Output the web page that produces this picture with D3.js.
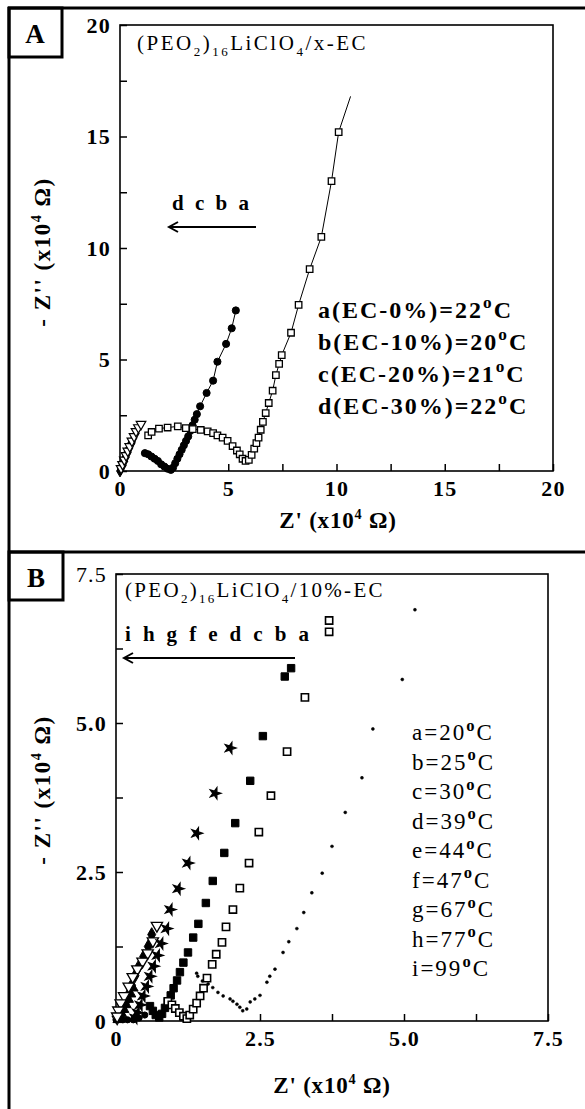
<!DOCTYPE html>
<html>
<head>
<meta charset="utf-8">
<script src="https://cdn.jsdelivr.net/npm/d3@7"></script>
<style>
  body { margin: 0; background: #fff; }
  svg { display: block; }
  text { font-family: "Liberation Serif", "Times New Roman", serif; fill: #000; }
</style>
</head>
<body>
<script>
var W = 585, H = 1109;

// ---- panel A data: Z' , -Z'' (x10^4 ohm)
var aEC0 = [[1.3,1.6],[1.46,1.75],[1.8,1.9],[2.2,1.95],[2.67,2.0],[3.04,1.92],[3.36,1.88],[3.73,1.84],
  [4.05,1.78],[4.3,1.7],[4.5,1.6],[4.74,1.5],[4.97,1.35],[5.2,1.12],[5.4,0.92],[5.53,0.75],[5.66,0.55],
  [5.8,0.45],[5.95,0.5],[6.08,0.72],[6.2,1.0],[6.3,1.25],[6.4,1.5],[6.5,1.85],[6.6,2.2],[6.73,2.6],
  [6.87,3.05],[7.05,3.6],[7.2,4.3],[7.35,4.8],[7.47,5.2],[7.9,6.2],[8.25,7.45],[8.76,9.05],[9.3,10.5],
  [9.77,13.0],[10.1,15.2]];
var aEC0Tail = [10.65, 16.8];
var aEC10 = [[1.15,0.8],[1.3,0.75],[1.45,0.65],[1.6,0.55],[1.75,0.45],[1.9,0.3],[2.05,0.2],[2.2,0.1],
  [2.35,0.05],[2.45,0.15],[2.55,0.35],[2.65,0.55],[2.75,0.75],[2.85,0.95],[2.95,1.15],[3.05,1.35],
  [3.15,1.55],[3.25,1.8],[3.35,2.05],[3.45,2.3],[3.55,2.55],[3.7,2.9],[4.0,3.5],[4.3,4.05],[4.5,4.9],
  [4.9,5.7],[5.16,6.4],[5.35,7.2]];
var aEC20 = [[0.05,0.12],[0.12,0.3],[0.2,0.5],[0.28,0.7],[0.36,0.9],[0.45,1.1],[0.55,1.35],[0.65,1.55],
  [0.74,1.78],[0.85,1.95],[0.97,2.1]];
var aEC30 = [[0,0],[0.04,0.1],[0.08,0.2],[0.12,0.3],[0.16,0.4],[0.2,0.5],[0.25,0.62],[0.3,0.75],
  [0.35,0.88],[0.4,1.0],[0.45,1.12],[0.5,1.22],[0.55,1.3]];
var legendA = ["a(EC-0%)=22", "b(EC-10%)=20", "c(EC-20%)=21", "d(EC-30%)=22"];
var ticksA = [0, 5, 10, 15, 20];

// ---- panel B data
var b20 = [[1.4,0.8],[1.42,0.75],[1.5,0.67],[1.6,0.62],[1.68,0.56],[1.77,0.48],[1.86,0.42],[1.98,0.37],
  [2.03,0.33],[2.1,0.28],[2.15,0.23],[2.2,0.17],[2.27,0.2],[2.33,0.32],[2.41,0.37],[2.5,0.43],[2.62,0.65],
  [2.67,0.75],[2.76,0.87],[2.9,1.15],[3.0,1.33],[3.14,1.55],[3.26,1.82],[3.4,2.15],[3.58,2.48],[3.75,2.93],
  [3.98,3.5],[4.27,4.08],[4.46,4.9],[4.97,5.73],[5.19,6.9]];
var b25 = [[0.9,0.33],[0.97,0.27],[1.03,0.21],[1.1,0.14],[1.17,0.08],[1.23,0.04],[1.28,0.1],[1.34,0.2],
  [1.4,0.3],[1.46,0.42],[1.52,0.55],[1.58,0.72],[1.67,0.95],[1.74,1.12],[1.84,1.32],[1.91,1.58],[2.03,1.87],
  [2.15,2.23],[2.31,2.65],[2.48,3.17],[2.69,3.78],[2.97,4.52],[3.28,5.43],[3.7,6.53],[3.7,6.72]];
var b30 = [[0.59,0.25],[0.64,0.17],[0.69,0.1],[0.75,0.06],[0.8,0.12],[0.85,0.22],[0.9,0.33],[0.95,0.43],
  [1.0,0.55],[1.06,0.68],[1.11,0.82],[1.17,0.98],[1.25,1.15],[1.34,1.4],[1.43,1.63],[1.56,1.98],[1.68,2.35],
  [1.88,2.82],[2.07,3.32],[2.33,4.03],[2.55,4.78],[2.93,5.78],[3.04,5.92]];
var b39 = [[1.98,4.58],[1.72,3.82],[1.4,3.15],[1.25,2.65],[1.08,2.22],[0.94,1.87],[0.88,1.55],[0.78,1.3],
  [0.72,1.1],[0.65,0.92],[0.59,0.75],[0.53,0.58],[0.47,0.42],[0.42,0.27],[0.37,0.14],[0.33,0.05]];
var b44 = [[0.71,1.6],[0.64,1.34],[0.55,1.14],[0.46,1.0],[0.37,0.87],[0.29,0.74],[0.22,0.58],[0.14,0.42],
  [0.08,0.3],[0.04,0.18],[0.02,0.08]];
var b47 = [[0.62,1.45],[0.56,1.25],[0.48,1.08],[0.4,0.92],[0.33,0.76],[0.27,0.6],[0.22,0.45],[0.17,0.32],
  [0.12,0.2],[0.08,0.1]];
var b67 = [[0.3,0.55],[0.26,0.45],[0.22,0.36],[0.18,0.27],[0.14,0.19],[0.1,0.12],[0.06,0.06],[0.03,0.02]];
var b77 = [[0.2,0.4],[0.16,0.3],[0.12,0.22],[0.08,0.14],[0.05,0.08],[0.02,0.03]];
var b99 = [[0.5,0.1],[0.4,0.05],[0.3,0.02],[0.2,0.02],[0.12,0.02],[0.05,0.03],[0.0,0.02]];
var legendB = ["a=20", "b=25", "c=30", "d=39", "e=44", "f=47", "g=67", "h=77", "i=99"];
var ticksB = [0, 2.5, 5, 7.5];

var svg = d3.select("body").append("svg")
  .attr("width", W)
  .attr("height", H);

// scales
var xA = d3.scaleLinear().domain([0, 20]).range([120, 553]);
var yA = d3.scaleLinear().domain([0, 20]).range([471, 25]);
var xB = d3.scaleLinear().domain([0, 7.5]).range([116, 548]);
var yB = d3.scaleLinear().domain([0, 7.5]).range([1021, 574]);

// outer frame lines and panel boxes
svg.append("line").attr("x1", 9).attr("y1", 7).attr("x2", 9).attr("y2", H)
  .attr("stroke", "#000").attr("stroke-width", 3);
svg.append("line").attr("x1", 8).attr("y1", 8).attr("x2", W).attr("y2", 8)
  .attr("stroke", "#000").attr("stroke-width", 3);
svg.append("line").attr("x1", 8).attr("y1", 552).attr("x2", W).attr("y2", 552)
  .attr("stroke", "#000").attr("stroke-width", 3);
svg.append("rect").attr("x", 9).attr("y", 8).attr("width", 53).attr("height", 49)
  .attr("fill", "none").attr("stroke", "#000").attr("stroke-width", 3);
svg.append("rect").attr("x", 9).attr("y", 552).attr("width", 54).attr("height", 48)
  .attr("fill", "none").attr("stroke", "#000").attr("stroke-width", 3);
svg.append("text").attr("x", 35).attr("y", 43).attr("text-anchor", "middle")
  .attr("font-size", 27).attr("font-weight", "bold").text("A");
svg.append("text").attr("x", 36).attr("y", 587).attr("text-anchor", "middle")
  .attr("font-size", 27).attr("font-weight", "bold").text("B");

// text with sub / superscripts
function rich(sel, parts, size) {
  parts.forEach(function(p) {
    var t = sel.append("tspan").text(p[0]);
    if (p[1] == "sub") t.attr("font-size", size * 0.62).attr("dy", size * 0.3);
    if (p[1] == "sup") t.attr("font-size", size * 0.62).attr("dy", -size * 0.38);
    if (p[1] == "deg") t.attr("font-size", size * 0.72).attr("font-weight", "bold").attr("dy", -size * 0.4);
    if (p[1] == "up") t.attr("dy", size * 0.38);
    if (p[1] == "up2") t.attr("dy", size * 0.4);
    if (p[1] == "dn") t.attr("dy", -size * 0.3);
  });
}

function drawFrame(x, y, step, labelFmt, fs) {
  var g = svg.append("g");
  var xs = x.domain(), ys = y.domain();
  g.append("rect")
    .attr("x", x(xs[0])).attr("y", y(ys[1]))
    .attr("width", x(xs[1]) - x(xs[0])).attr("height", y(ys[0]) - y(ys[1]))
    .attr("fill", "none").attr("stroke", "#000").attr("stroke-width", 1.6);
  var minor = d3.range(xs[0], xs[1] + 0.001, step);
  var xAxis = d3.axisBottom(x).tickValues(minor).tickSize(-7).tickSizeOuter(0).tickPadding(9)
    .tickFormat(labelFmt);
  var yAxis = d3.axisLeft(y).tickValues(minor).tickSize(-7).tickSizeOuter(0).tickPadding(9)
    .tickFormat(labelFmt);
  var gx = g.append("g").attr("transform", "translate(0," + y(ys[0]) + ")").call(xAxis);
  var gy = g.append("g").attr("transform", "translate(" + x(xs[0]) + ",0)").call(yAxis);
  [gx, gy].forEach(function(a) {
    a.select(".domain").remove();
    a.selectAll(".tick line").attr("stroke", "#000").attr("stroke-width", 1.5);
    a.selectAll(".tick text").attr("font-family", "Liberation Serif").attr("font-size", fs)
      .attr("font-weight", "bold").attr("letter-spacing", 1.2).attr("fill", "#000");
  });
  return { gx: gx, gy: gy };
}

function markers(data, x, y, type, size, filled, sw) {
  svg.append("g").selectAll("path").data(data).join("path")
    .attr("transform", function(d) { return "translate(" + x(d[0]) + "," + y(d[1]) + ")" + (type.rot || ""); })
    .attr("d", d3.symbol().type(type.sym).size(size))
    .attr("fill", filled ? "#000" : "#fff")
    .attr("stroke", "#000")
    .attr("stroke-width", sw);
}

var square = { sym: d3.symbolSquare };
var circle = { sym: d3.symbolCircle };
var diamond = { sym: d3.symbolDiamond };
var star = { sym: d3.symbolStar, rot: " rotate(18)" };
var triDown = { sym: d3.symbolTriangle, rot: " rotate(180)" };
var triUp = { sym: d3.symbolTriangle };

// ================= panel A =================
drawFrame(xA, yA, 2.5, function(d) { return ticksA.indexOf(d) >= 0 ? d : ""; }, 22);

var lineA = d3.line().x(function(d) { return xA(d[0]); }).y(function(d) { return yA(d[1]); });
svg.append("path").attr("d", lineA(aEC0.concat([aEC0Tail])))
  .attr("fill", "none").attr("stroke", "#000").attr("stroke-width", 1);
svg.append("path").attr("d", lineA(aEC10))
  .attr("fill", "none").attr("stroke", "#000").attr("stroke-width", 1);
markers(aEC30, xA, yA, diamond, 40, true, 1);
markers(aEC20, xA, yA, triDown, 40, false, 1.2);
markers(aEC10, xA, yA, circle, 40, true, 1);
markers(aEC0, xA, yA, square, 42, false, 1.3);

var tA = svg.append("text").attr("x", 137).attr("y", 50).attr("font-size", 21).attr("letter-spacing", 2.5);
rich(tA, [["(PEO"], ["2", "sub"], [")", "dn"], ["16", "sub"], ["LiClO", "dn"], ["4", "sub"], ["/x-EC", "dn"]], 21);

svg.append("text").attr("x", 172).attr("y", 210).attr("font-size", 21).attr("font-weight", "bold")
  .attr("letter-spacing", 3).text("d c b a");
function arrow(x1, x2, yy) {
  svg.append("line").attr("x1", x1).attr("x2", x2).attr("y1", yy).attr("y2", yy)
    .attr("stroke", "#000").attr("stroke-width", 2);
  svg.append("path").attr("d", "M" + (x1 + 9) + "," + (yy - 5) + "L" + x1 + "," + yy + "L" + (x1 + 9) + "," + (yy + 5))
    .attr("fill", "none").attr("stroke", "#000").attr("stroke-width", 2);
}
arrow(169, 256, 227);

legendA.forEach(function(s, i) {
  var t = svg.append("text").attr("x", 318).attr("y", 318 + i * 32)
    .attr("font-size", 24).attr("font-weight", "bold").attr("letter-spacing", 2);
  rich(t, [[s], ["o", "deg"], ["C", "up2"]], 24);
});

var yLabA = svg.append("text").attr("transform", "translate(50,252) rotate(-90)")
  .attr("text-anchor", "middle").attr("font-size", 23).attr("font-weight", "bold").attr("letter-spacing", 1.5);
rich(yLabA, [["- Z'' (x10"], ["4", "sup"], [" \u03A9)", "up"]], 23);
var xLabA = svg.append("text").attr("x", 338).attr("y", 528)
  .attr("text-anchor", "middle").attr("font-size", 23).attr("font-weight", "bold").attr("letter-spacing", 0.8);
rich(xLabA, [["Z' (x10"], ["4", "sup"], [" \u03A9)", "up"]], 23);

// ================= panel B =================
var fmtB = function(d) { return ticksB.indexOf(d) >= 0 ? (d == 0 ? "0" : d3.format(".1f")(d)) : ""; };
var axB = drawFrame(xB, yB, 1.25, fmtB, 22);
axB.gy.selectAll(".tick text").filter(function(d) { return d == 7.5; }).attr("font-weight", "normal");

markers(b99, xB, yB, circle, 30, true, 1);
markers(b77, xB, yB, triDown, 40, false, 1.2);
markers(b67, xB, yB, triUp, 40, true, 1);
markers(b47, xB, yB, diamond, 55, true, 1);
markers(b44, xB, yB, triDown, 55, false, 1.3);
markers(b39, xB, yB, star, 40, true, 1.2);
markers(b30, xB, yB, square, 55, true, 1);
markers(b25, xB, yB, square, 52, false, 1.6);
markers(b20, xB, yB, circle, 7, true, 0.5);

var tB = svg.append("text").attr("x", 125).attr("y", 597).attr("font-size", 21).attr("letter-spacing", 2.3);
rich(tB, [["(PEO"], ["2", "sub"], [")", "dn"], ["16", "sub"], ["LiClO", "dn"], ["4", "sub"], ["/10%-EC", "dn"]], 21);
svg.append("text").attr("x", 125).attr("y", 641).attr("font-size", 21).attr("font-weight", "bold")
  .attr("letter-spacing", 3.4).text("i h g f e d c b a");
arrow(124, 295, 658);

legendB.forEach(function(s, i) {
  var t = svg.append("text").attr("x", 412).attr("y", 740 + i * 29.5)
    .attr("font-size", 23).attr("letter-spacing", 2);
  rich(t, [[s], ["o", "deg"], ["C", "up2"]], 23);
});

var yLabB = svg.append("text").attr("transform", "translate(50,790) rotate(-90)")
  .attr("text-anchor", "middle").attr("font-size", 23).attr("font-weight", "bold").attr("letter-spacing", 1.5);
rich(yLabB, [["- Z'' (x10"], ["4", "sup"], [" \u03A9)", "up"]], 23);
var xLabB = svg.append("text").attr("x", 332).attr("y", 1093)
  .attr("text-anchor", "middle").attr("font-size", 23).attr("font-weight", "bold").attr("letter-spacing", 0.8);
rich(xLabB, [["Z' (x10"], ["4", "sup"], [" \u03A9)", "up"]], 23);
</script>
</body>
</html>
